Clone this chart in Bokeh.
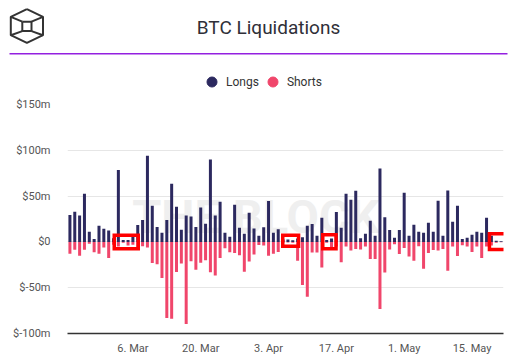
import pandas as pd
from bokeh.plotting import figure
from bokeh.models import Range1d, FixedTicker, PolyAnnotation, Legend, LegendItem, ColumnDataSource
from bokeh.layouts import column
from bokeh.embed import file_html
from bokeh.resources import INLINE
from bokeh.core.properties import value

# ---------------- data ----------------
start_date = "2020-02-22"
longs = [29.5, 33.0, 28.7, 52.6, 11.0, 3.3, 17.5, 14.3, 12.4, 4.0,
         78.6, 2.0, 2.0, 6.0, 18.5, 24.0, 94.0, 39.5, 16.4, 9.9,
         24.0, 63.6, 38.4, 13.2, 28.7, 27.6, 16.4, 37.5, 19.7, 90.0,
         28.7, 43.9, 9.9, 5.5, 40.6, 15.4, 8.8, 31.8, 14.7, 6.6,
         16.0, 44.6, 9.9, 13.9, 2.5, 2.6, 1.8, 3.6, 5.0, 17.5,
         19.5, 6.6, 26.3, 2.0, 3.6, 32.6, 15.4, 52.6, 46.0, 55.8,
         4.0, 8.8, 23.0, 6.8, 80.0, 26.8, 13.1, 4.4, 13.1, 53.7,
         6.6, 18.6, 11.0, 9.9, 20.8, 11.0, 44.8, 6.6, 56.0, 22.0,
         39.5, 3.3, 4.4, 7.7, 11.0, 9.9, 26.3, 6.6, 1.2, 0.8]
shorts = [-13.0, -8.6, -15.2, -8.6, -2.0, -11.3, -13.0, -6.0, -17.5, -3.0,
          -5.0, -1.0, -4.0, -3.0, -5.5, -4.8, -6.1, -23.0, -24.3, -39.3,
          -83.0, -84.0, -32.8, -23.6, -89.5, -21.0, -30.4, -22.8, -20.0, -33.0,
          -36.8, -17.7, -6.8, -11.3, -12.0, -14.6, -32.7, -21.3, -13.7, -3.5,
          -4.0, -15.0, -13.0, -11.0, -1.0, -0.6, -1.0, -20.5, -47.0, -60.0,
          -11.6, -11.6, -28.0, -1.0, -6.5, -5.0, -22.2, -5.0, -9.5, -7.7,
          -8.4, -5.0, -18.6, -18.6, -73.3, -33.4, -8.2, -2.5, -13.1, -6.6,
          -16.0, -20.5, -4.8, -29.3, -12.0, -8.8, -9.5, -7.7, -31.4, -5.0,
          -15.4, -3.6, -5.0, -11.0, -5.0, -17.5, -5.0, -4.0, -0.8, -0.5]
dates = pd.date_range(start_date, periods=len(longs), freq="D")

y_ticks = [-100, -50, 0, 50, 100, 150]
y_labels = ["$-100m", "$-50m", "$0", "$50m", "$100m", "$150m"]
x_tick_dates = ["2020-03-06", "2020-03-20", "2020-04-03", "2020-04-17", "2020-05-01", "2020-05-15"]
x_tick_labels = ["6. Mar", "20. Mar", "3. Apr", "17. Apr", "1. May", "15. May"]

# highlighted regions (day index from start, value range)
highlight_boxes = [(9.15, 14.1, 7.2, -7.6), (43.93, 47.2, 7.2, -4.7),
                   (52.19, 54.93, 7.9, -7.6), (86.6, 90.5, 9.0, -8.4)]

NAVY = "#2c295f"
PINK = "#f0466b"
FONT = "Roboto"
DAY = 86400000
t0 = dates[0].value // 10**6

# ---------------- header ----------------
h = figure(width=521, height=94, x_range=Range1d(0, 521), y_range=Range1d(94, 0),
           x_axis_type=None, y_axis_type=None, output_backend="svg",
           toolbar_location=None, min_border=0, frame_align=False)
h.outline_line_color = None
h.grid.visible = False

# logo
hx = [26.4, 42.5, 42.5, 26.4, 10.3, 10.3, 26.4]
hy = [8.6, 16.3, 34.7, 42.4, 34.7, 16.3, 8.6]
h.line(hx, hy, line_color="#333333", line_width=2)
h.line([21.8, 31.0, 31.0, 21.8, 21.8], [21.2, 21.2, 30.6, 30.6, 21.2], line_color="#333333", line_width=2)
h.multi_line([[10.3, 21.8], [42.5, 31.0], [10.3, 21.8], [42.5, 31.0]],
             [[16.3, 21.2], [16.3, 21.2], [34.7, 30.6], [34.7, 30.6]],
             line_color="#333333", line_width=2)

h.text(x=[268], y=[27], text=["BTC Liquidations"], text_align="center", text_baseline="middle",
       text_font=value(FONT), text_font_size="19px", text_color="#2f2f38")
h.line([9, 507], [53.3, 53.3], line_color="#9420e0", line_width=1.5)

r_l = h.scatter(x=[-100], y=[-100], marker="circle", size=10, color=NAVY)
r_s = h.scatter(x=[-100], y=[-100], marker="circle", size=10, color=PINK)
legend = Legend(items=[LegendItem(label="Longs", renderers=[r_l]),
                       LegendItem(label="Shorts", renderers=[r_s])],
                orientation="horizontal", location=(199, 0),
                glyph_width=25, glyph_height=25, label_standoff=2, spacing=1,
                padding=0, margin=0, border_line_color=None, background_fill_alpha=0,
                label_text_font=FONT, label_text_font_size="12px", label_text_color="#333333")
h.add_layout(legend)

# ---------------- chart ----------------
x0 = dates[0] - pd.Timedelta(hours=12)
x1 = dates[-1] + pd.Timedelta(hours=12)
p = figure(width=521, height=268, x_axis_type="datetime",
           x_range=Range1d(x0, x1), y_range=Range1d(-100, 150),
           output_backend="svg", toolbar_location=None, frame_align=False,
           min_border_left=67, min_border_right=18, min_border_top=10, min_border_bottom=29)
p.outline_line_color = None

src = ColumnDataSource(dict(date=dates, longs=longs, shorts=shorts))

p.text(x=[dates[0] + pd.Timedelta(days=38.4)], y=[27.6], text=["THE BLOCK"],
       text_align="center", text_baseline="alphabetic", text_font=value(FONT),
       text_font_style="bold", text_font_size="47px", text_color="#efefef")

p.vbar(x="date", top="longs", bottom=0, width=0.62 * DAY, source=src, fill_color=NAVY, line_color=None)
p.vbar(x="date", top=0, bottom="shorts", width=0.62 * DAY, source=src, fill_color=PINK, line_color=None)

for (l, r, t, b) in highlight_boxes:
    xl, xr = t0 + l * DAY, t0 + r * DAY
    p.add_layout(PolyAnnotation(xs=[xl, xr, xr, xl], ys=[t, t, b, b],
                                fill_alpha=0, line_color="#ff0000", line_alpha=1.0,
                                line_width=3.5, line_join="miter"))

x_ticks_ms = [pd.Timestamp(d).value // 10**6 for d in x_tick_dates]
p.xaxis.ticker = FixedTicker(ticks=x_ticks_ms)
p.xaxis.major_label_overrides = {t: lab for t, lab in zip(x_ticks_ms, x_tick_labels)}
p.xaxis.major_tick_line_color = None
p.xaxis.major_tick_out = 0
p.xaxis.major_tick_in = 0
p.xaxis.minor_tick_line_color = None
p.xaxis.axis_line_color = "#333333"
p.xaxis.axis_line_width = 1.5
p.xaxis.major_label_standoff = 8
p.xaxis.major_label_text_font = FONT
p.xaxis.major_label_text_font_size = "11px"
p.xaxis.major_label_text_color = "#555555"

p.yaxis.ticker = FixedTicker(ticks=y_ticks)
p.yaxis.major_label_overrides = {t: lab for t, lab in zip(y_ticks, y_labels)}
p.yaxis.major_tick_line_color = None
p.yaxis.major_tick_out = 0
p.yaxis.major_tick_in = 0
p.yaxis.minor_tick_line_color = None
p.yaxis.axis_line_color = None
p.yaxis.major_label_standoff = 17
p.yaxis.major_label_text_font = FONT
p.yaxis.major_label_text_font_size = "11px"
p.yaxis.major_label_text_color = "#555555"

p.xgrid.visible = False
p.ygrid.grid_line_color = "#e6e6e6"

layout = column(h, p, spacing=0)
open("out.html", "w").write(file_html(layout, INLINE))
